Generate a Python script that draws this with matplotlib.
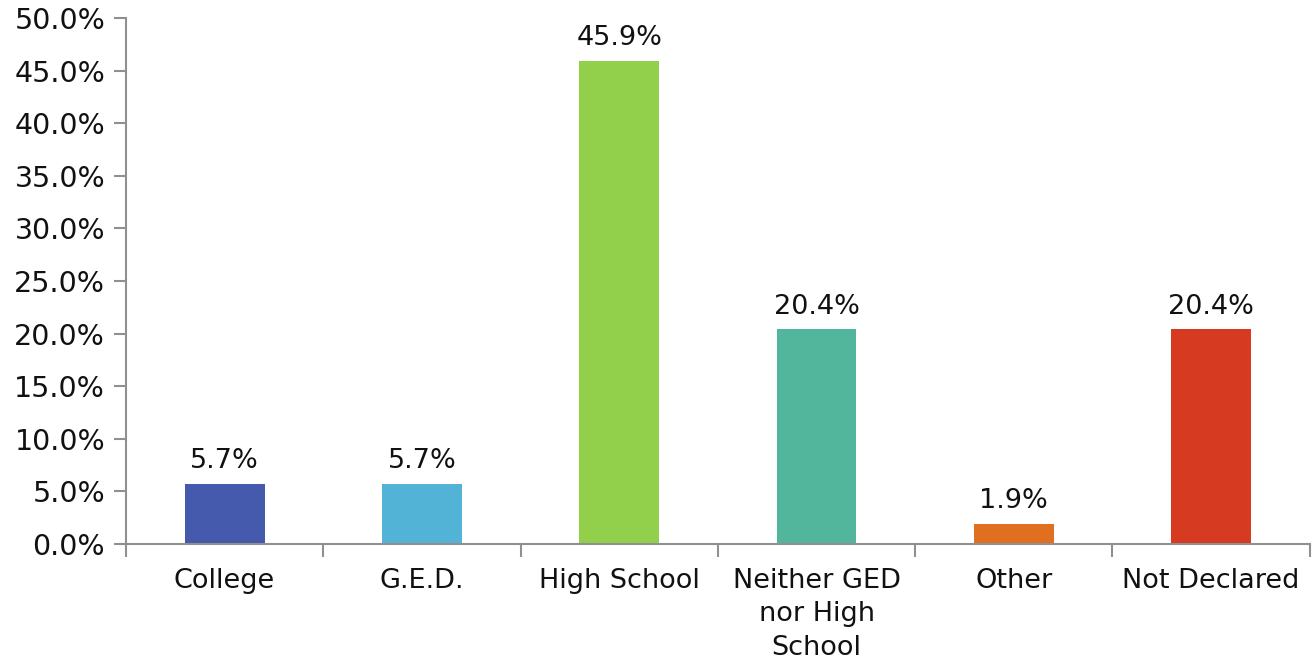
import matplotlib.pyplot as plt
import numpy as np

categories = ['College', 'G.E.D.', 'High School', 'Neither GED\nnor High\nSchool', 'Other', 'Not Declared']
values = [5.7, 5.7, 45.9, 20.4, 1.9, 20.4]
colors = ['#4559AD', '#52B3D7', '#92D04B', '#52B69D', '#E0701F', '#D63A21']
yticks = np.arange(0, 50.1, 5)

plt.rcParams['font.family'] = 'DejaVu Sans'
fig = plt.figure(figsize=(13.15, 6.6), dpi=100)
ax = fig.add_axes([0.0958, 0.1758, 0.9002, 0.7969])

x = np.arange(len(categories))
ax.bar(x, values, width=0.405, color=colors)
for xi, v in zip(x, values):
    ax.annotate(f'{v:.1f}%', (xi, v), xytext=(0, 7), textcoords='offset points',
                ha='center', va='bottom', fontsize=19.5, color='#111111')

ax.set_xlim(-0.5, len(categories) - 0.5)
ax.set_ylim(0, 50)
ax.set_yticks(yticks)
ax.set_yticklabels([f'{t:.1f}%' for t in yticks])

# ticks between categories, labels centred under bars
ax.set_xticks(np.arange(-0.5, len(categories), 1.0))
ax.set_xticklabels([])
ax.set_xticks(x, minor=True)
ax.set_xticklabels(categories, minor=True, linespacing=1.38)
ax.tick_params(axis='x', which='minor', length=0, pad=17, labelsize=19.5, labelcolor='#111111')
ax.tick_params(axis='x', which='major', length=9, width=1.5, color='#909090', direction='out')
ax.tick_params(axis='y', length=9, width=1.5, color='#909090', direction='out',
               labelsize=20.5, pad=6, labelcolor='#111111')

for side in ['top', 'right']:
    ax.spines[side].set_visible(False)
for side in ['left', 'bottom']:
    ax.spines[side].set_color('#909090')
    ax.spines[side].set_linewidth(1.5)

fig.savefig('out.png', dpi=100)
